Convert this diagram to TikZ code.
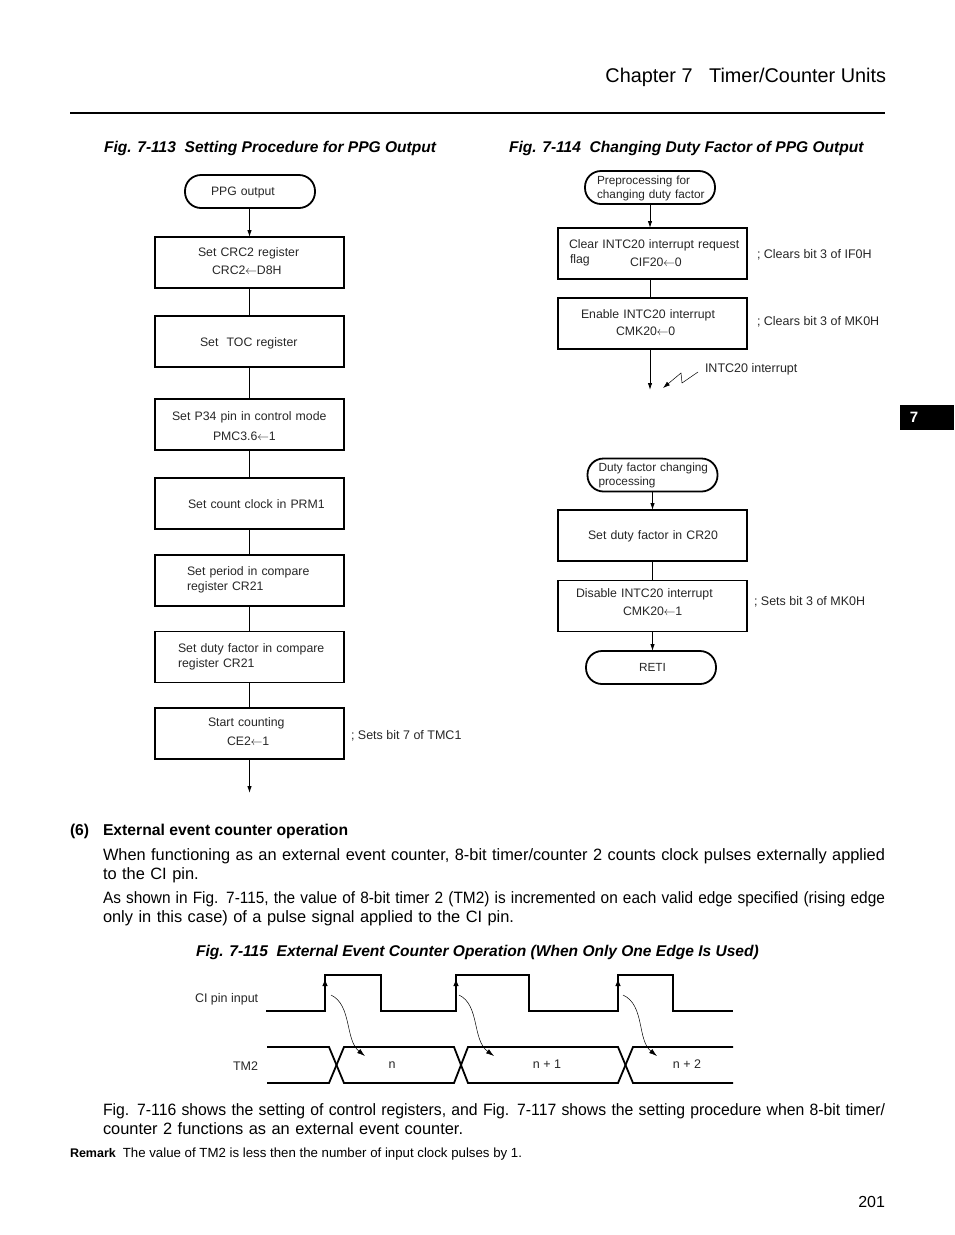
\documentclass[tikz,border=0pt]{standalone}
\usepackage{fontspec}
\usepackage{graphicx}
\setmainfont{Liberation Sans}
\usetikzlibrary{arrows.meta}
\newcommand{\ind}[1]{\hspace*{#1pt}}
\newcommand{\setto}{\kern-0.3pt$\leftarrow$\kern-0.3pt}
\newcommand{\fitline}[1]{\resizebox{782pt}{\height}{#1}}
% struts that move the text of a box down (first line) or up (last line)
\newcommand{\down}[1]{\rule{0pt}{\dimexpr 9pt+2\dimexpr #1pt\relax\relax}}
\newcommand{\up}[1]{\rule[-\dimexpr 3pt+2\dimexpr #1pt\relax\relax]{0pt}{0pt}}

\begin{document}
\begin{tikzpicture}[
  x=1pt,
  y=-1pt,
  >={Latex[length=7pt,width=4.5pt]},
  every node/.style={inner sep=0pt, outer sep=0pt},
  flowbox/.style={draw, line width=1.8pt, minimum width=189pt, minimum height=51pt, text width=189pt, align=left, font=\fontsize{12.3}{15}\selectfont, text=black!85},
  term/.style={draw, line width=1.8pt, rounded corners=16pt, minimum width=130pt, minimum height=33pt, text width=130pt, align=left, font=\fontsize{11.8}{14}\selectfont, text=black!85},
  note/.style={anchor=west, font=\fontsize{12.5}{15}\selectfont, text=black!85},
  figtitle/.style={anchor=west, font=\fontsize{15.55}{18}\selectfont\bfseries\itshape},
  bodytext/.style={anchor=north west, text width=782pt, align=left, font=\fontsize{16.4}{19}\selectfont},
  link/.style={line width=0.9pt},
  arr/.style={->, line width=0.9pt},
  wave/.style={line width=1.8pt},
  tick/.style={-{Latex[length=8pt,width=5pt]}, line width=0.5pt}
]
\useasboundingbox (0,0) rectangle (954,1235);

% page head
\node[anchor=east, font=\fontsize{19.85}{22}\selectfont] (chapter) at (886,77) {Chapter 7\ \ \ Timer/Counter Units};
\coordinate (ruleL) at (70,113);
\coordinate (ruleR) at (885,113);
\draw[wave] (ruleL) -- (ruleR);
\node[fill=black, text=white, minimum width=54pt, minimum height=25pt, font=\fontsize{15}{18}\selectfont\bfseries] (tab) at (927,417) {7\ind{26}};

\node[figtitle] (fig113) at (104,148) {Fig. 7-113\ \ Setting Procedure for PPG Output};
\node[figtitle] (fig114) at (509,148) {Fig. 7-114\ \ Changing Duty Factor of PPG Output};

% setting procedure
\node[term, font=\fontsize{12.2}{14}\selectfont] (ppg) at (250,191.5) {\ind{26}\down{1}PPG output};
\node[flowbox] (crc) at (249.5,262.5) {\ind{43}Set CRC2 register\\[3pt]\ind{57}CRC2\setto D8H\up{-0.5}};
\node[flowbox] (toc) at (249.5,341.5) {\ind{45}\down{2}Set\ \ TOC register};
\node[flowbox] (pin) at (249.5,424.5) {\ind{17}\down{2}Set P34 pin in control mode\\[5pt]\ind{58}PMC3.6\setto 1};
\node[flowbox] (clk) at (249.5,503.5) {\ind{33}\down{1}Set count clock in PRM1};
\node[flowbox] (per) at (249.5,580.5) {\ind{32}Set period in compare\\\ind{32}register CR21\up{0.8}};
\node[flowbox] (dut) at (249.5,657) {\ind{23}Set duty factor in compare\\\ind{23}register CR21};
\node[flowbox] (sta) at (249.5,733.5) {\ind{53}Start counting\\[4pt]\ind{72}CE2\setto 1\up{0.5}};
\coordinate (staout) at (249.5,793);
\node[note] (stanote) at (351,736) {; Sets bit 7 of TMC1};

\draw[arr] (ppg.south -| crc) -- (crc.north);
\draw[link] (crc) -- (toc);
\draw[link] (toc) -- (pin);
\draw[link] (pin) -- (clk);
\draw[link] (clk) -- (per);
\draw[link] (per) -- (dut);
\draw[link] (dut) -- (sta);
\draw[arr] (sta.south) -- (staout);

% changing duty factor
\node[term] (pre) at (650,187.5) {\ind{12}\down{1}Preprocessing for\\\ind{12}changing duty factor};
\node[flowbox] (cif) at (652.5,253.5) {\ind{11}Clear INTC20 interrupt request\\[3pt]\ind{12}\rlap{\raisebox{3pt}{flag}}\ind{60}CIF20\setto 0};
\node[flowbox] (ena) at (652.5,323.5) {\ind{23}Enable INTC20 interrupt\\[2pt]\ind{58}CMK20\setto 0\up{-0.5}};
\coordinate (enaout) at (650,390);
\node[note] (cifnote) at (757,255) {; Clears bit 3 of IF0H};
\node[note] (enanote) at (757,322) {; Clears bit 3 of MK0H};
\node[note] (intnote) at (705,369) {INTC20 interrupt};
\coordinate (bolta) at (698,372);
\coordinate (boltb) at (682,383);
\coordinate (boltc) at (681,373);
\coordinate (boltd) at (663,388);

\draw[arr] (pre.south) -- (pre.south |- cif.north);
\draw[link] (ena.north -| pre) -- (cif.south -| pre);
\draw[arr] (ena.south -| enaout) -- (enaout);
\draw[line width=0.5pt, ->] (bolta) -- (boltb) -- (boltc) -- (boltd);

\node[term] (duty) at (652.5,475) {\ind{11}Duty factor changing\\\ind{11}processing};
\node[flowbox] (set) at (652.5,535.5) {\ind{30}\down{1}Set duty factor in CR20};
\node[flowbox] (dis) at (652.5,606) {\ind{18}Disable INTC20 interrupt\\[3pt]\ind{65}CMK20\setto 1\up{2.5}};
\node[term] (reti) at (651,667.5) {\ind{53}RETI};
\node[note] (disnote) at (754,602) {; Sets bit 3 of MK0H};

\draw[arr] (duty) -- (set);
\draw[link] (set) -- (dis);
\draw[arr] (dis.south) -- (dis.south |- reti.north);

% external event counter text
\node[anchor=west, font=\fontsize{15.7}{18}\selectfont\bfseries] (secnum) at (70,831) {(6)};
\node[anchor=west, font=\fontsize{15.7}{18}\selectfont\bfseries] (sechead) at (103,831) {External event counter operation};
\node[bodytext] (para1) at (103,849) {\fitline{When functioning as an external event counter, 8-bit timer/counter 2 counts clock pulses externally applied}\\to the CI pin.};
\node[bodytext] (para2) at (103,892) {\fitline{As shown in Fig. 7-115, the value of 8-bit timer 2 (TM2) is incremented on each valid edge specified (rising edge}\\only in this case) of a pulse signal applied to the CI pin.};
\node[figtitle] (fig115) at (196,952) {Fig. 7-115\ \ External Event Counter Operation (When Only One Edge Is Used)};

% timing chart
\node[note] (cilabel) at (195,999) {CI pin input};
\node[note] (tmlabel) at (233,1066) {TM2};
\node[note, anchor=center] (cntn) at (392,1065) {n};
\node[note, anchor=center] (cntna) at (547,1064) {n + 1};
\node[note, anchor=center] (cntnb) at (687,1064) {n + 2};

\draw[wave] (266,1011) -- (325,1011) -- (325,975) -- (381,975) -- (381,1011) -- (456,1011) -- (456,975) -- (529,975) -- (529,1011) -- (618,1011) -- (618,975) -- (673,975) -- (673,1011) -- (733,1011);
\draw[wave] (267,1047) -- (329,1047) -- (344,1083) -- (454,1083) -- (468,1047) -- (618,1047) -- (633,1083) -- (733,1083);
\draw[wave] (267,1083) -- (329,1083) -- (344,1047) -- (454,1047) -- (468,1083) -- (618,1083) -- (633,1047) -- (733,1047);

\foreach \edge in {325,456,618} {
  \draw[-{Latex[length=7pt,width=5.5pt]}, line width=0.8pt] (\edge,995) -- (\edge,979);
}
\coordinate (ea) at (331,995);
\coordinate (eb) at (365,1056);
\coordinate (ec) at (459,995);
\coordinate (ed) at (494,1056);
\coordinate (ee) at (623,995);
\coordinate (ef) at (657,1056);
\draw[tick] (ea) .. controls (352,1005) and (345,1040) .. (eb);
\draw[tick] (ec) .. controls (480,1005) and (472,1040) .. (ed);
\draw[tick] (ee) .. controls (645,1005) and (637,1040) .. (ef);

\node[bodytext] (para3) at (103,1104) {\fitline{Fig. 7-116 shows the setting of control registers, and Fig. 7-117 shows the setting procedure when 8-bit timer/}\\counter 2 functions as an external event counter.};
\node[anchor=west, font=\fontsize{13.25}{14}\selectfont] (remark) at (70,1154) {\fontsize{12.5}{14}\selectfont\textbf{Remark}\ind{7}\fontsize{13.25}{14}\selectfont The value of TM2 is less then the number of input clock pulses by 1.};
\node[anchor=east, font=\fontsize{16}{17}\selectfont] (pageno) at (885,1202) {201};
\end{tikzpicture}
\end{document}
